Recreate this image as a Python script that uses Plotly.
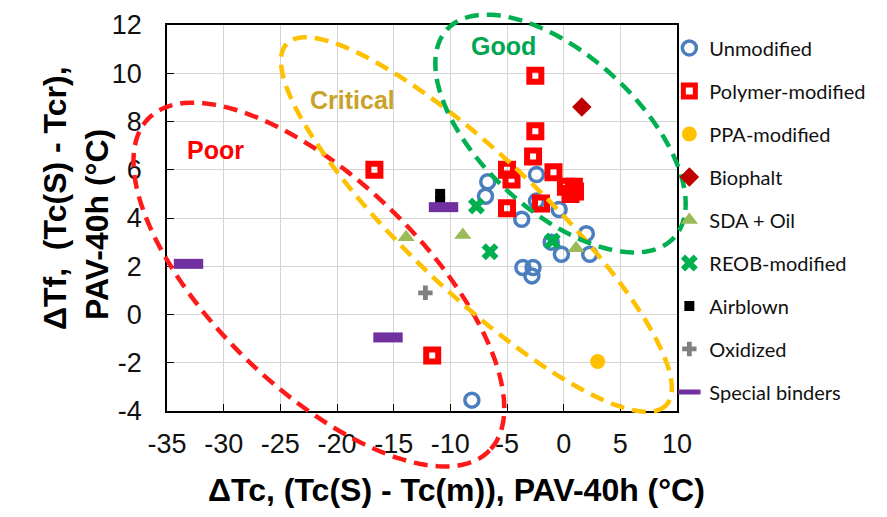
import math
import plotly.graph_objects as go

# ---------------- data ----------------
unmod_x = [-2.4, -6.7, -6.9, -2.4, -0.4, -3.7, 2.0, -1.1, -0.2, 2.3, -3.6, -2.7, -2.8, -8.1]
unmod_y = [5.8, 5.5, 4.9, 4.7, 4.35, 3.95, 3.35, 3.0, 2.5, 2.5, 1.95, 1.95, 1.6, -3.55]

poly_x = [-2.5, -2.5, -2.7, -0.9, -5.0, -2.0, -16.7, -11.6, -5.0, -4.6, 0.2, 1.0, 0.6, 0.9]
poly_y = [9.9, 7.6, 6.55, 5.9, 4.4, 4.6, 6.0, -1.7, 6.0, 5.6, 5.3, 5.1, 5.0, 5.3]

ppa_x = [3.0]
ppa_y = [-1.95]

bio_x = [1.6]
bio_y = [8.6]

sda_x = [-13.9, -8.9, 1.1]
sda_y = [3.2, 3.3, 2.75]

reob_x = [-7.7, -6.5, -1.0]
reob_y = [4.5, 2.6, 3.05]

air_x = [-10.9, -10.9]
air_y = [5.0, 4.7]

oxi_x = [-12.2]
oxi_y = [0.9]

spec_x = [-33.1, -15.5, -10.6]
spec_y = [2.1, -0.95, 4.45]

x_ticks = [-35, -30, -25, -20, -15, -10, -5, 0, 5, 10]
x_tick_text = ["-35", "-30", "-25", "-20", "-15", "-10", "-5", "0", "5", "10"]
y_ticks = [-4, -2, 0, 2, 4, 6, 8, 10, 12]
y_tick_text = ["-4", "-2", "0", "2", "4", "6", "8", "10", "12"]

# zone ellipses: centre (data units), semi-axes (px), tilt (deg, clockwise on screen)
zones = [
    ("Poor", -21.6, 1.24, 238, 104, 44.2, "#ff1a1a"),
    ("Critical", -7.7, 3.73, 262, 68, 43.6, "#ffc000"),
    ("Good", -0.28, 7.5, 154, 78, 42.5, "#00b050"),
]
zone_labels = [
    ("Poor", -30.76, 6.82, "#ff0000"),
    ("Critical", -18.6, 8.89, "#c9a227"),
    ("Good", -5.35, 11.15, "#00a651"),
]

# ---------------- layout constants ----------------
W, H = 887, 517
ML, MR, MT, MB = 167, 210, 25, 106
PW, PH = W - ML - MR, H - MT - MB
XR = [-35, 10]
YR = [-4, 12]


def ellipse_path(cx, cy, a, b, ang, n=160):
    t = math.radians(ang)
    pcx = (cx - XR[0]) / (XR[1] - XR[0])
    pcy = (cy - YR[0]) / (YR[1] - YR[0])
    pts = []
    for i in range(n + 1):
        s = 2 * math.pi * i / n
        dx = a * math.cos(s) * math.cos(t) - b * math.sin(s) * math.sin(t)
        dy = a * math.cos(s) * math.sin(t) + b * math.sin(s) * math.cos(t)
        pts.append(f"{pcx + dx / PW:.5f},{pcy - dy / PH:.5f}")
    return "M" + " L".join(pts) + " Z"


fig = go.Figure()


def add(name, xs, ys, marker):
    fig.add_trace(go.Scatter(x=xs, y=ys, mode="markers", name=name,
                             legendgroup=name, marker=marker, cliponaxis=False))


add("Unmodified", unmod_x, unmod_y,
    dict(symbol="circle-open", size=14, color="#4a7ebf", line=dict(width=3.5, color="#4a7ebf")))
add("Polymer-modified", poly_x, poly_y,
    dict(symbol="square-open", size=12, color="#ff0000", line=dict(width=6, color="#ff0000")))
add("PPA-modified", ppa_x, ppa_y,
    dict(symbol="circle", size=15, color="#ffc000"))
add("Biophalt", bio_x, bio_y,
    dict(symbol="diamond", size=15, color="#c00000"))
add("SDA + Oil", sda_x, sda_y,
    dict(symbol="triangle-up", size=15, color="#9bbb59"))
add("REOB-modified", reob_x, reob_y,
    dict(symbol="x", size=15, color="#00b050"))
add("Airblown", air_x, air_y,
    dict(symbol="square", size=10, color="#000000"))
add("Oxidized", oxi_x, oxi_y,
    dict(symbol="cross", size=12, color="#808080"))
add("Special binders", spec_x, spec_y,
    dict(symbol="line-ew", size=21, color="#7030a0", line=dict(width=10, color="#7030a0")))

shapes = []
for _, cx, cy, a, b, ang, col in zones:
    shapes.append(dict(type="path", xref="paper", yref="paper",
                       path=ellipse_path(cx, cy, a, b, ang),
                       line=dict(color=col, width=4.5, dash="14px,8px"), layer="above"))

annotations = []
for txt, x, y, col in zone_labels:
    annotations.append(dict(text=f"<b>{txt}</b>", x=x, y=y, xref="x", yref="y", showarrow=False,
                            font=dict(family="Liberation Sans, Arial", size=25, color=col)))

annotations.append(dict(text="<b>ΔTc, (Tc(S) - Tc(m)), PAV-40h (°C)</b>",
                        x=(456 - ML) / PW, y=(H - MB - 490) / PH, xref="paper", yref="paper",
                        showarrow=False, xanchor="center", yanchor="middle",
                        font=dict(family="Liberation Sans, Arial", size=32, color="#000")))
annotations.append(dict(text="<b>ΔTf,\u00a0\u00a0(Tc(S) - Tcr),</b>",
                        x=(55 - ML) / PW, y=(H - MB - 198) / PH, xref="paper", yref="paper",
                        showarrow=False, xanchor="center", yanchor="middle", textangle=-90,
                        font=dict(family="Liberation Sans, Arial", size=32, color="#000")))
annotations.append(dict(text="<b>PAV-40h (°C)</b>",
                        x=(97 - ML) / PW, y=(H - MB - 225) / PH, xref="paper", yref="paper",
                        showarrow=False, xanchor="center", yanchor="middle", textangle=-90,
                        font=dict(family="Liberation Sans, Arial", size=32, color="#000")))

axis_common = dict(showgrid=True, gridcolor="#d4d4d4", gridwidth=1.2, zeroline=False,
                   showline=True, linecolor="#000", linewidth=1.5, mirror=True,
                   ticks="inside", ticklen=7, tickcolor="#000",
                   tickfont=dict(family="Liberation Sans, Arial", size=27, color="#111"))

fig.update_layout(
    width=W, height=H, autosize=False,
    margin=dict(l=ML, r=MR, t=MT, b=MB, autoexpand=False),
    paper_bgcolor="white", plot_bgcolor="white",
    xaxis=dict(range=XR, tickvals=x_ticks, ticktext=x_tick_text, ticklabelstandoff=8,
               automargin=False, **axis_common),
    yaxis=dict(range=YR, tickvals=y_ticks, ticktext=y_tick_text, ticklabelstandoff=18,
               automargin=False, **axis_common),
    legend=dict(x=0.985, y=0.945, xref="paper", yref="container", xanchor="left", yanchor="top",
                tracegroupgap=14,
                font=dict(family="Lato", size=20, color="#111"), bgcolor="rgba(0,0,0,0)",
                itemwidth=30, maxheight=1.0),
    shapes=shapes,
    annotations=annotations,
    showlegend=True,
)

fig.write_html("out.html")
